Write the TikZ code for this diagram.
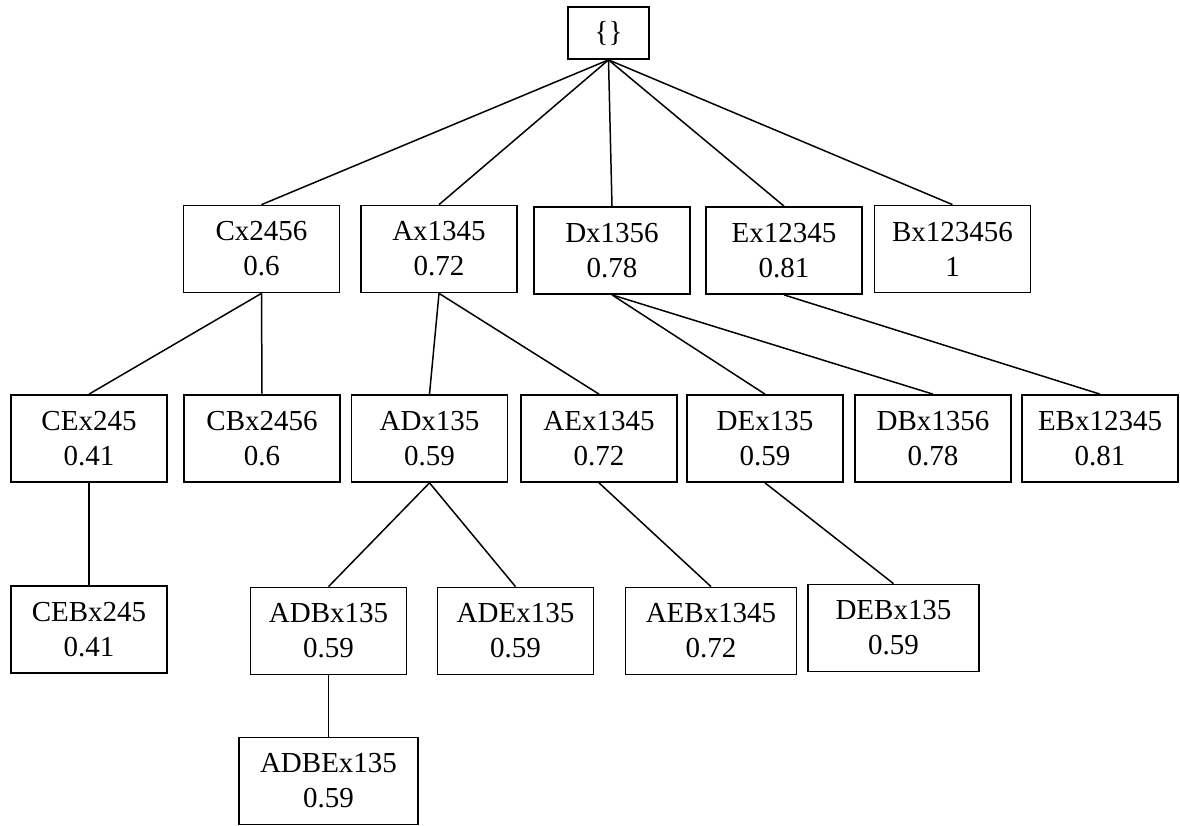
\documentclass[tikz,border=0pt]{standalone}
\usepackage{fontspec}
\setmainfont{Liberation Serif}
\usepackage{tikz}
\usetikzlibrary{positioning}

\begin{document}
\begin{tikzpicture}[x=0.02cm, y=-0.02cm, line width=1pt,
  main node/.style={rectangle,draw,align=center,minimum width=3.12cm,minimum height=1.74cm,inner sep=1pt,font=\fontsize{16.5}{20}\selectfont},
  wide node/.style={main node,minimum width=3.42cm},
  root node/.style={rectangle,draw,minimum width=1.62cm,minimum height=1.04cm,font=\fontsize{16.5}{20}\selectfont}]
  \useasboundingbox (0,0) rectangle (1180,825);
  \node[root node] (0) at (608.5,33) {\{\}};
  % first level
  \node[main node] (1) at (261.5,249) {Cx2456\\0.6};
  \node[main node] (2) at (439,249) {Ax1345\\0.72};
  \node[main node] (3) at (612,250.5) {Dx1356\\0.78};
  \node[main node] (4) at (784,250.5) {Ex12345\\0.81};
  \node[main node] (5) at (952.5,249) {Bx123456\\1};
  % second level
  \node[main node] (6) at (89,438.5) {CEx245\\0.41};
  \node[main node] (7) at (262,438.5) {CBx2456\\0.6};
  \node[main node] (8) at (429.5,438.5) {ADx135\\0.59};
  \node[main node] (9) at (599,438.5) {AEx1345\\0.72};
  \node[main node] (10) at (765,438.5) {DEx135\\0.59};
  \node[main node] (11) at (933,438.5) {DBx1356\\0.78};
  \node[main node] (12) at (1100,438.5) {EBx12345\\0.81};
  % third level
  \node[main node] (13) at (89,629.5) {CEBx245\\0.41};
  \node[main node] (14) at (328.5,631) {ADBx135\\0.59};
  \node[main node] (15) at (515.5,631) {ADEx135\\0.59};
  \node[wide node] (16) at (711,631) {AEBx1345\\0.72};
  \node[wide node] (17) at (893.5,628) {DEBx135\\0.59};
  \node[main node, minimum width=3.58cm] (18) at (328.5,781) {ADBEx135\\0.59};
  \path[line width=0.85pt]
    (0.south) edge (1.north)
    (0.south) edge (2.north)
    (0.south) edge (3.north)
    (0.south) edge (4.north)
    (0.south) edge (5.north)
    (1.south) edge (6.north)
    (1.south) edge (7.north)
    (2.south) edge (8.north)
    (2.south) edge (9.north)
    (3.south) edge (10.north)
    (3.south) edge (11.north)
    (4.south) edge (12.north)
    (6.south) edge (13.north)
    (8.south) edge (14.north)
    (8.south) edge (15.north)
    (9.south) edge (16.north)
    (10.south) edge (17.north)
    (14.south) edge (18.north);
\end{tikzpicture}
\end{document}
